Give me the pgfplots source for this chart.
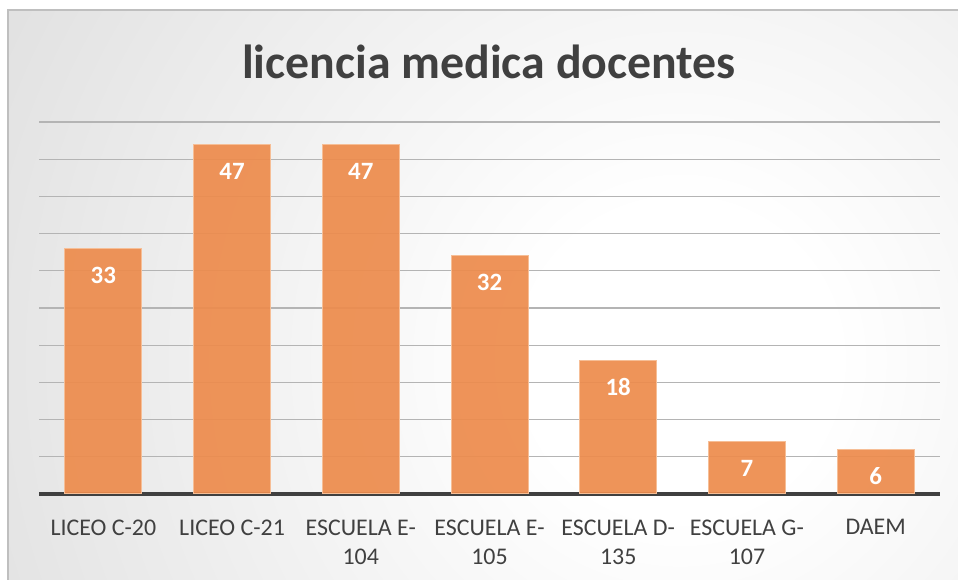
\documentclass[border=0pt]{standalone}
\usepackage{fontspec}
\setmainfont{Carlito}
\usepackage{pgfplots}
\pgfplotsset{compat=1.18}
\definecolor{barfill}{RGB}{237,140,77}
\definecolor{baredge}{RGB}{246,190,150}
\definecolor{titlecol}{RGB}{64,64,64}
\definecolor{labcol}{RGB}{64,64,64}
\definecolor{gridcol}{RGB}{180,180,180}
\definecolor{axcol}{RGB}{64,64,64}
\definecolor{bgedge}{RGB}{196,196,196}
\pgfdeclareradialshading{bgshade}{\pgfpoint{0bp}{0bp}}{color(0bp)=(white); color(4bp)=(white); color(35bp)=(bgedge); color(50bp)=(bgedge)}
\begin{document}
\begin{tikzpicture}[x=1bp,y=1bp]
\useasboundingbox (0,0) rectangle (958,580);
\fill[white] (0,0) rectangle (958,580);
\begin{scope}
\clip (8,0) rectangle (958,570);
\shade[shading=bgshade] (680,220) circle (970);
\end{scope}
\draw[black!25, line width=1.5bp] (8,0) -- (8,570) -- (958,570);
\node[font=\fontsize{48}{58}\selectfont\bfseries, text=titlecol] at (489,518) {licencia medica docentes};
\begin{axis}[
  at={(39bp,86bp)}, anchor=south west,
  scale only axis, width=901bp, height=372bp,
  xmin=-0.5, xmax=6.5, ymin=0, ymax=50,
  ybar, bar width=77bp,
  xtick={0,...,6},
  xticklabels={LICEO C-20, LICEO C-21, {ESCUELA E-\\104}, {ESCUELA E-\\105}, {ESCUELA D-\\135}, {ESCUELA G-\\107}, DAEM},
  xticklabel style={align=center, font=\fontsize{24}{30}\selectfont, text=labcol, anchor=north, yshift=-22bp},
  ytick={5,10,...,50}, yticklabels={},
  major tick length=0pt,
  ymajorgrids, grid style={gridcol, line width=1.2bp},
  axis x line*=bottom, axis y line*=left,
  y axis line style={draw=none},
  x axis line style={axcol, line width=4bp, -},
  /pgf/number format/assume math mode=true,
  nodes near coords,
  nodes near coords style={font=\fontsize{25}{28}\selectfont\bfseries, text=white, anchor=center, yshift=-27bp},
]
\addplot[fill=barfill, fill opacity=0.93, draw=baredge, line width=1bp, text opacity=1] coordinates {(0,33) (1,47) (2,47) (3,32) (4,18) (5,7) (6,6)};
\end{axis}
\end{tikzpicture}
\end{document}
